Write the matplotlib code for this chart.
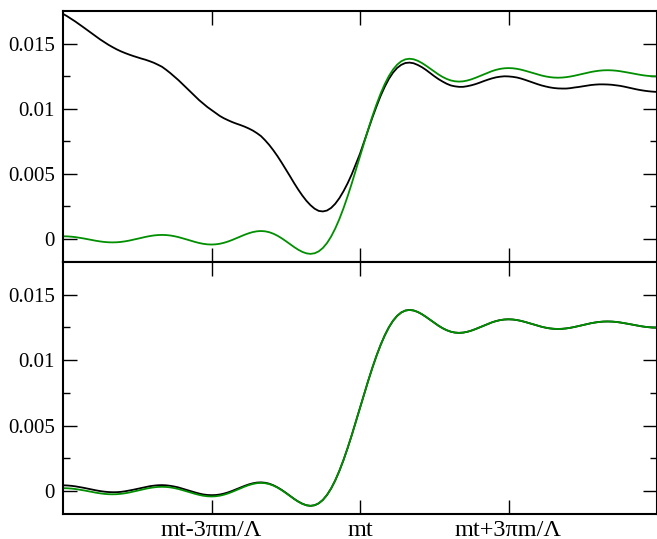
import numpy as np
import matplotlib
matplotlib.use("Agg")
import matplotlib.pyplot as plt
from matplotlib.ticker import FixedLocator, FuncFormatter

plt.rcParams['font.family'] = ['Liberation Serif', 'DejaVu Serif']

# x runs from -6*pi to 6*pi (units of m/Lambda around mt), 145 samples
x = np.linspace(-6 * np.pi, 6 * np.pi, 145)

# green curve (same in both panels)
green = [0.000213, 0.000206, 0.000184, 0.000149, 0.000102, 0.000047,
         -0.000013, -0.000074, -0.000132, -0.000182, -0.000222, -0.000247,
         -0.000255, -0.000247, -0.000220, -0.000177, -0.000121, -0.000054,
         0.000020, 0.000094, 0.000165, 0.000227, 0.000276, 0.000307,
         0.000318, 0.000307, 0.000274, 0.000219, 0.000148, 0.000062,
         -0.000032, -0.000128, -0.000220, -0.000301, -0.000365, -0.000406,
         -0.000420, -0.000405, -0.000361, -0.000287, -0.000189, -0.000071,
         0.000060, 0.000196, 0.000327, 0.000443, 0.000535, 0.000596,
         0.000617, 0.000594, 0.000526, 0.000411, 0.000255, 0.000064,
         -0.000152, -0.000380, -0.000606, -0.000812, -0.000981, -0.001095,
         -0.001137, -0.001090, -0.000942, -0.000683, -0.000306, 0.000192,
         0.000809, 0.001537, 0.002366, 0.003282, 0.004265, 0.005296,
         0.006350,
         0.007404, 0.008435, 0.009418, 0.010334, 0.011163, 0.011891,
         0.012508, 0.013006, 0.013383, 0.013642, 0.013790, 0.013837,
         0.013795, 0.013681, 0.013512, 0.013306, 0.013080, 0.012852,
         0.012636, 0.012445, 0.012289, 0.012174, 0.012106, 0.012083,
         0.012104, 0.012165, 0.012257, 0.012373, 0.012504, 0.012640,
         0.012771, 0.012889, 0.012987, 0.013061, 0.013105, 0.013120,
         0.013106, 0.013065, 0.013001, 0.012920, 0.012828, 0.012732,
         0.012638, 0.012552, 0.012481, 0.012426, 0.012393, 0.012382,
         0.012393, 0.012424, 0.012473, 0.012535, 0.012606, 0.012680,
         0.012754, 0.012821, 0.012877, 0.012920, 0.012947, 0.012955,
         0.012947, 0.012922, 0.012882, 0.012832, 0.012774, 0.012713,
         0.012653, 0.012598, 0.012551, 0.012516, 0.012494, 0.012487]

# black curve, top panel
black_top = [0.01728, 0.01710, 0.01690, 0.01669, 0.01647, 0.01624,
             0.01601, 0.01578, 0.01555, 0.01532, 0.01511, 0.01491,
             0.01473, 0.01456, 0.01441, 0.01428, 0.01416, 0.01405,
             0.01395, 0.01385, 0.01376, 0.01365, 0.01353, 0.01338,
             0.01322, 0.01299, 0.01274, 0.01247, 0.01219, 0.01189,
             0.01158, 0.01127, 0.01096, 0.01066, 0.01039, 0.01013,
             0.00990, 0.00966, 0.00945, 0.00927, 0.00912, 0.00898,
             0.00886, 0.00875, 0.00863, 0.00849, 0.00833, 0.00813,
             0.00790, 0.00758, 0.00722, 0.00681, 0.00636, 0.00587,
             0.00536, 0.00484, 0.00431, 0.00381, 0.00335, 0.00294,
             0.00260, 0.00233, 0.00216, 0.00212, 0.00219, 0.00239,
             0.00271, 0.00314, 0.00367, 0.00428, 0.00497, 0.00575,
             0.00655,
             0.00748, 0.00839, 0.00932, 0.01018, 0.01099, 0.01169,
             0.01229, 0.01277, 0.01313, 0.01337, 0.01351, 0.01354,
             0.01349, 0.01336, 0.01319, 0.01298, 0.01274, 0.01250,
             0.01228, 0.01209, 0.01192, 0.01179, 0.01172, 0.01168,
             0.01168, 0.01173, 0.01180, 0.01189, 0.01200, 0.01212,
             0.01223, 0.01233, 0.01241, 0.01246, 0.01249, 0.01248,
             0.01245, 0.01240, 0.01232, 0.01222, 0.01211, 0.01200,
             0.01189, 0.01179, 0.01171, 0.01164, 0.01159, 0.01156,
             0.01155, 0.01155, 0.01158, 0.01163, 0.01167, 0.01172,
             0.01177, 0.01182, 0.01185, 0.01187, 0.01187, 0.01186,
             0.01184, 0.01180, 0.01176, 0.01170, 0.01163, 0.01156,
             0.01149, 0.01143, 0.01138, 0.01134, 0.01131, 0.01129]

# black curve, bottom panel: sits a little above green on the left,
# then lies on top of it from x = -pi onward
black_bot_left = [0.000433, 0.000421, 0.000394, 0.000354, 0.000302, 0.000242,
                  0.000177, 0.000111, 0.000048, -0.000007, -0.000052, -0.000082,
                  -0.000095, -0.000092, -0.000070, -0.000027, 0.000029, 0.000091,
                  0.000160, 0.000234, 0.000305, 0.000362, 0.000406, 0.000437,
                  0.000448, 0.000432, 0.000394, 0.000339, 0.000268, 0.000177,
                  0.000078, -0.000018, -0.000110, -0.000196, -0.000265, -0.000306,
                  -0.000320, -0.000310, -0.000271, -0.000202, -0.000109, 0.000004,
                  0.000130, 0.000261, 0.000387, 0.000498, 0.000585, 0.000641,
                  0.000657, 0.000629, 0.000556, 0.000436, 0.000275, 0.000084,
                  -0.000132, -0.000365, -0.000596, -0.000802, -0.000971, -0.001090]
black_bot = black_bot_left + green[len(black_bot_left):]

xticks = [-3 * np.pi, 0, 3 * np.pi]
xticklabels = ['mt-3\u03c0m/\u039b', 'mt', 'mt+3\u03c0m/\u039b']
yticks = [0, 0.005, 0.01, 0.015]
yminor = [0.0025, 0.0075, 0.0125]

GREEN = '#008f00'

fig = plt.figure(figsize=(6.57, 5.39), dpi=100)
ax1 = fig.add_axes([63 / 657, 1 - 262 / 539, 1 - 63 / 657, 251 / 539])
ax2 = fig.add_axes([63 / 657, 1 - 514 / 539, 1 - 63 / 657, 252 / 539])

ax1.plot(x, black_top, color='black', lw=1.3)
ax1.plot(x, green, color=GREEN, lw=1.3)
ax2.plot(x, black_bot, color='black', lw=1.3)
ax2.plot(x, green, color=GREEN, lw=1.3)

for ax in (ax1, ax2):
    ax.set_xlim(-6 * np.pi, 6 * np.pi)
    ax.set_ylim(-0.00176, 0.01750)
    ax.xaxis.set_major_locator(FixedLocator(xticks))
    ax.yaxis.set_major_locator(FixedLocator(yticks))
    ax.yaxis.set_minor_locator(FixedLocator(yminor))
    ax.yaxis.set_major_formatter(FuncFormatter(lambda v, p: '%g' % v))
    ax.tick_params(which='both', direction='in', top=True, right=True,
                   width=1.0, labelsize=15, pad=6)
    ax.tick_params(which='major', length=10)
    ax.tick_params(which='minor', length=5)
    for s in ax.spines.values():
        s.set_linewidth(1.5)

ax1.set_xticklabels([])
ax2.set_xticklabels(xticklabels)
ax2.tick_params(axis='x', labelsize=17.5, pad=4)

fig.savefig('out.png', dpi=100)
